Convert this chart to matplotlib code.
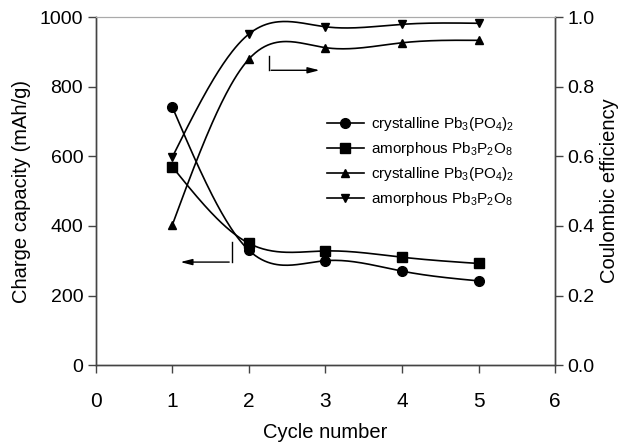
import numpy as np
import matplotlib
matplotlib.use("Agg")
import matplotlib.pyplot as plt

plt.rcParams['font.family'] = ['Liberation Sans', 'DejaVu Sans']
plt.rcParams['mathtext.fontset'] = 'custom'
plt.rcParams['mathtext.rm'] = 'Liberation Sans'
plt.rcParams['mathtext.it'] = 'Liberation Sans:italic'

# data
cycles = [1, 2, 3, 4, 5]
cap_cryst = [742, 330, 300, 270, 242]
cap_amor = [570, 350, 328, 310, 292]
ce_cryst = [0.402, 0.879, 0.912, 0.926, 0.933]
ce_amor = [0.597, 0.951, 0.972, 0.979, 0.982]

labels = [r'crystalline Pb$_3$(PO$_4$)$_2$', r'amorphous Pb$_3$P$_2$O$_8$',
          r'crystalline Pb$_3$(PO$_4$)$_2$', r'amorphous Pb$_3$P$_2$O$_8$']


def smooth(x, y, n=200):
    # natural cubic spline through the points (like the original plotting program)
    x = np.asarray(x, float)
    y = np.asarray(y, float)
    m = len(x)
    h = np.diff(x)
    A = np.zeros((m, m))
    r = np.zeros(m)
    A[0, 0] = A[-1, -1] = 1
    for i in range(1, m - 1):
        A[i, i - 1] = h[i - 1]
        A[i, i] = 2 * (h[i - 1] + h[i])
        A[i, i + 1] = h[i]
        r[i] = 3 * ((y[i + 1] - y[i]) / h[i] - (y[i] - y[i - 1]) / h[i - 1])
    c = np.linalg.solve(A, r)
    b = (y[1:] - y[:-1]) / h - h * (2 * c[:-1] + c[1:]) / 3
    d = (c[1:] - c[:-1]) / (3 * h)
    xs = np.linspace(x[0], x[-1], n)
    k = np.clip(np.searchsorted(x, xs) - 1, 0, m - 2)
    t = xs - x[k]
    ys = y[k] + b[k] * t + c[k] * t ** 2 + d[k] * t ** 3
    return xs, ys


fig = plt.figure(figsize=(6.21, 4.48), dpi=100)
ax = fig.add_axes([0.154, 0.185, 0.740, 0.777])
ax2 = ax.twinx()

lw = 1.2
handles = []
for ser, mk, ms, a in [(cap_cryst, 'o', 7, ax), (cap_amor, 's', 6.5, ax),
                       (ce_cryst, '^', 6, ax2), (ce_amor, 'v', 6, ax2)]:
    xs, ys = smooth(cycles, ser)
    a.plot(xs, ys, color='black', lw=lw)
    a.plot(cycles, ser, ls='none', marker=mk, ms=ms, color='black')
    h, = a.plot([], [], color='black', lw=lw, marker=mk, ms=ms)
    handles.append(h)

ax.set_xlim(0, 6)
ax.set_ylim(0, 1000)
ax2.set_ylim(0, 1.0)
ax.set_xticks(range(0, 7))
ax.set_yticks(range(0, 1001, 200))
ax2.set_yticks(np.arange(0, 1.01, 0.2))
ax2.set_yticklabels(['%.1f' % v for v in np.arange(0, 1.01, 0.2)])

for a in (ax, ax2):
    for s in ['left', 'bottom', 'right']:
        a.spines[s].set_color('#444444')
        a.spines[s].set_linewidth(1.0)
    a.spines['top'].set_color('#aaaaaa')
    a.spines['top'].set_linewidth(0.8)

ax.tick_params(axis='y', direction='out', length=6, width=1, color='#444444', labelsize=14, pad=3)
ax.tick_params(axis='x', direction='out', length=6, width=1, color='#444444', labelsize=15, pad=13)
ax2.tick_params(axis='y', direction='out', length=6, width=1, color='#444444', labelsize=14, pad=3)

ax.set_xlabel('Cycle number', fontsize=14.5, labelpad=9)
ax.set_ylabel('Charge capacity (mAh/g)', fontsize=14.5, labelpad=6)
ax2.set_ylabel('Coulombic efficiency', fontsize=14.5, labelpad=4)

# arrows pointing to the axes
ax.plot([1.775, 1.775], [355, 296], color='black', lw=1)
ax.annotate('', xy=(1.07, 296), xytext=(1.78, 296),
            arrowprops=dict(arrowstyle='-|>,head_length=0.7,head_width=0.18', color='black', lw=1))
ax2.plot([2.26, 2.26], [0.888, 0.847], color='black', lw=1)
ax2.annotate('', xy=(2.96, 0.847), xytext=(2.255, 0.847),
             arrowprops=dict(arrowstyle='-|>,head_length=0.7,head_width=0.18', color='black', lw=1))

ax2.legend(handles, labels, loc='upper left', bbox_to_anchor=(0.49, 0.735), frameon=False,
           fontsize=11, handlelength=2.4, handletextpad=0.5, labelspacing=0.45, borderaxespad=0)

fig.savefig('out.png', dpi=100)
